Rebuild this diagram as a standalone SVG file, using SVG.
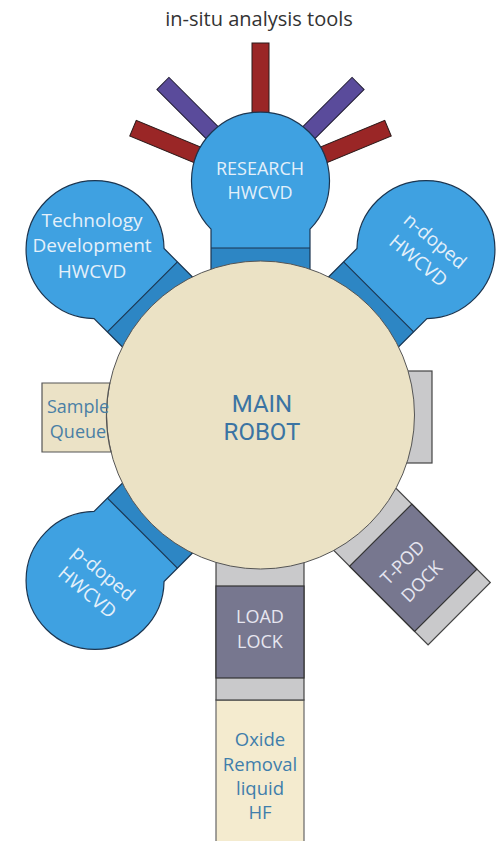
<svg xmlns="http://www.w3.org/2000/svg" xmlns:xlink="http://www.w3.org/1999/xlink" width="499" height="841" viewBox="0 0 499 841">
<style>
.bulb{fill:#3fa1e1;stroke:none}
.band{fill:#2d86c4;stroke:none}
.edge{fill:none;stroke:#1b3550;stroke-width:1.2}
.gray{fill:#c9c9cb;stroke:#444;stroke-width:1.2}
.dark{fill:#77778f;stroke:#333;stroke-width:1.2}
.red{fill:#9a2626;stroke:#2a1a1a;stroke-width:1}
.purple{fill:#5a4b9b;stroke:#1f1a33;stroke-width:1}
text{font-family:"Open Sans","Liberation Sans",sans-serif;text-anchor:middle}
.wt{fill:#e4f0fa;font-size:19px}
.lt{fill:#e6e6f0;font-size:18px}
.bt{fill:#3f7eab;font-size:18.5px}
.sq{fill:#4a7fa5;font-size:18px}
.mr{fill:#3b74a3;font-size:24px;font-family:Roboto,"Open Sans",sans-serif}
</style>
<defs>
<path id="bulbPath" d="M-49.5,-140 L-49.5,-185.9 A69,69 0 1,1 49.5,-185.9 L49.5,-140 Z"/>
<g id="chamber">
<use xlink:href="#bulbPath" href="#bulbPath" class="bulb"/>
<rect class="band" x="-49.5" y="-167" width="99" height="27"/>
<line class="edge" x1="-49.5" y1="-167" x2="49.5" y2="-167"/>
<use xlink:href="#bulbPath" href="#bulbPath" class="edge"/>
</g>
<g id="dock">
<rect class="gray" x="-44" y="-281" width="88" height="141"/>
<rect class="dark" x="-44" y="-262" width="88" height="92"/>
</g>
<rect id="bar" x="-8.5" y="-138" width="17" height="80"/>
</defs>

<text x="259" y="26" style="fill:#333;font-size:20px">in-situ analysis tools</text>

<g id="tools" transform="translate(260.5 181)">
<use xlink:href="#bar" href="#bar" class="red" transform="rotate(-67.5)"/>
<use xlink:href="#bar" href="#bar" class="purple" transform="rotate(-45)"/>
<use xlink:href="#bar" href="#bar" class="red"/>
<use xlink:href="#bar" href="#bar" class="purple" transform="rotate(45)"/>
<use xlink:href="#bar" href="#bar" class="red" transform="rotate(67.5)"/>
</g>

<g id="research">
<use xlink:href="#chamber" href="#chamber" transform="translate(260.5 415)"/>
<text class="wt" x="260" y="175" style="font-size:18px">RESEARCH</text>
<text class="wt" x="260" y="199" style="font-size:18px">HWCVD</text>
</g>

<g id="techdev">
<use xlink:href="#chamber" href="#chamber" transform="translate(260.5 415) rotate(-45)"/>
<text class="wt" x="92" y="227">Technology</text>
<text class="wt" x="92" y="252">Development</text>
<text class="wt" x="92" y="278">HWCVD</text>
</g>

<g id="ndoped">
<use xlink:href="#chamber" href="#chamber" transform="translate(260.5 415) rotate(45)"/>
<g transform="translate(427 250.5) rotate(40)">
<text class="wt" x="0" y="-6">n-doped</text>
<text class="wt" x="0" y="20">HWCVD</text>
</g>
</g>

<g id="pdoped">
<use xlink:href="#chamber" href="#chamber" transform="translate(260.5 415) rotate(-135)"/>
<g transform="translate(96 582) rotate(40)">
<text class="wt" x="0" y="-5">p-doped</text>
<text class="wt" x="0" y="20">HWCVD</text>
</g>
</g>

<g id="tpod-dock">
<use xlink:href="#dock" href="#dock" transform="translate(260.5 415) rotate(135)"/>
<g transform="translate(412 572) rotate(-45)">
<text class="lt" x="0" y="-7">T-POD</text>
<text class="lt" x="0" y="20">DOCK</text>
</g>
</g>

<g id="right-port">
<rect class="gray" x="380" y="371" width="52" height="92"/>
</g>

<g id="oxide-removal">
<rect x="216" y="700" width="88" height="150" style="fill:#f4ebcf;stroke:#666;stroke-width:1.2"/>
<text class="bt" x="260" y="746">Oxide</text>
<text class="bt" x="260" y="771">Removal</text>
<text class="bt" x="260" y="795">liquid</text>
<text class="bt" x="260" y="819">HF</text>
</g>

<g id="load-lock">
<rect class="gray" x="216" y="540" width="88" height="160"/>
<rect class="dark" x="216" y="586" width="88" height="92"/>
<text class="lt" x="260" y="623">LOAD</text>
<text class="lt" x="260" y="648">LOCK</text>
</g>

<g id="main-robot">
<circle cx="260.5" cy="415" r="154" style="fill:#ebe2c5;stroke:#555;stroke-width:1"/>
<text class="mr" x="262" y="412">MAIN</text>
<text class="mr" x="262" y="440">ROBOT</text>
</g>

<g id="sample-queue">
<path d="M42,383 L109.86,383 A154,154 0 0,0 111,452 L42,452 Z" style="fill:#ebe2c6;stroke:#555;stroke-width:1.2"/>
<text class="sq" x="78" y="413">Sample</text>
<text class="sq" x="78" y="438">Queue</text>
</g>
</svg>
